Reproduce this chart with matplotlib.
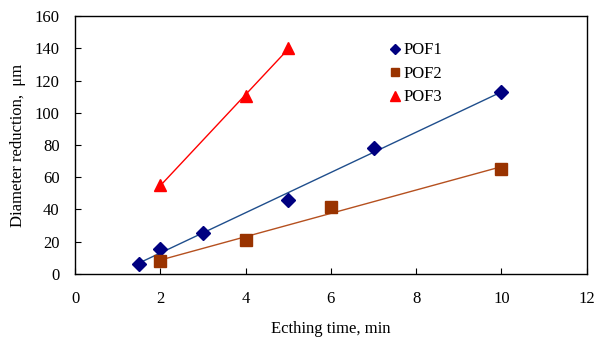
import numpy as np
import matplotlib
matplotlib.use("Agg")
import matplotlib.pyplot as plt

plt.rcParams['font.family'] = ['Liberation Serif', 'DejaVu Serif']
plt.rcParams['mathtext.fontset'] = 'stix'

# data
x1 = np.array([1.5, 2, 3, 5, 7, 10])
y1 = np.array([6.4, 15.5, 25.2, 46, 78, 113])
x2 = np.array([2, 4, 6, 10])
y2 = np.array([8.1, 21.1, 41.7, 65])
x3 = np.array([2, 4, 5])
y3 = np.array([55, 110.5, 140])

fig = plt.figure(figsize=(6.03, 3.37), dpi=100)
ax = fig.add_axes([0.1244, 0.187, 0.8486, 0.7655])

def trend(x, y, color):
  k, b = np.polyfit(x, y, 1)
  xx = np.array([x.min(), x.max()])
  ax.plot(xx, k*xx + b, '-', color=color, lw=1.0, zorder=2)

trend(x1, y1, '#1f4e8c')
trend(x2, y2, '#b5501f')
trend(x3, y3, '#ff0000')

ax.plot(x1, y1, 'D', color='#000080', ms=7, ls='none', label='POF1', zorder=3)
ax.plot(x2, y2, 's', color='#993300', ms=8, ls='none', label='POF2', zorder=3)
ax.plot(x3, y3, '^', color='#ff0000', ms=9, ls='none', label='POF3', zorder=3)

ax.set_xlim(0, 12)
ax.set_ylim(0, 160)
ax.set_xticks(range(0, 13, 2))
ax.set_yticks(range(0, 161, 20))
ax.tick_params(direction='in', labelsize=12, length=4, width=0.8)
ax.tick_params(axis='x', pad=12)
ax.tick_params(axis='y', pad=11)
for s in ax.spines.values():
  s.set_linewidth(1.0)

ax.set_xlabel('Ecthing time, min', fontsize=12, labelpad=10)
ax.set_ylabel('Diameter reduction,  μm', fontsize=12, labelpad=6)

ax.legend(loc='upper left', bbox_to_anchor=(0.6, 0.93), frameon=False,
          fontsize=12, handlelength=0.6, handletextpad=0.2, labelspacing=0.45,
          borderpad=0, markerscale=0.75)

fig.savefig('out.png', dpi=100)
